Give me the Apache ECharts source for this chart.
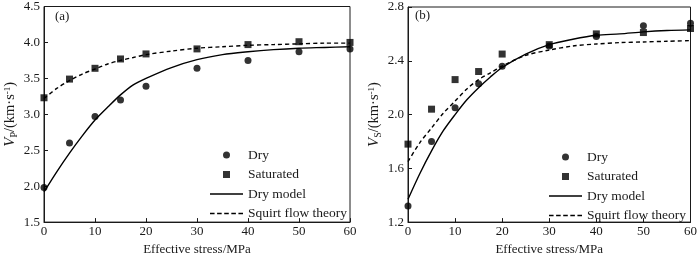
<!DOCTYPE html>
<html>
<head>
<meta charset="utf-8">
<script src="https://cdn.jsdelivr.net/npm/echarts@6/dist/echarts.min.js"></script>
<style>
  html, body { margin: 0; padding: 0; background: #fff; }
  #chart { width: 700px; height: 261px; }
</style>
</head>
<body>
<div id="chart"></div>
<script>
// measured points
const stress = [0, 5, 10, 15, 20, 30, 40, 50, 60]
const vpDry = [1.98, 2.6, 2.97, 3.2, 3.39, 3.64, 3.75, 3.87, 3.91]
const vpSat = [3.23, 3.49, 3.64, 3.77, 3.84, 3.91, 3.97, 4.01, 4.0]
const vsDry = [1.32, 1.8, 2.05, 2.23, 2.36, 2.51, 2.58, 2.66, 2.68]
const vsSat = [1.78, 2.04, 2.26, 2.32, 2.45, 2.52, 2.6, 2.61, 2.64]

// model curves
const modelStress = [0, 2.5, 5, 7.5, 10, 12.5, 15, 17.5, 20, 25, 30, 35, 40, 45, 50, 55, 60]
const vpDryModel = [1.92, 2.2, 2.46, 2.7, 2.92, 3.1, 3.27, 3.41, 3.5, 3.65, 3.76, 3.83, 3.87, 3.9, 3.92, 3.93, 3.94]
const vpSquirt = [3.22, 3.36, 3.47, 3.56, 3.63, 3.7, 3.75, 3.79, 3.83, 3.88, 3.92, 3.94, 3.96, 3.97, 3.98, 3.99, 3.99]
const vsDryModel = [1.37, 1.56, 1.73, 1.88, 2.0, 2.11, 2.2, 2.28, 2.35, 2.45, 2.52, 2.56, 2.59, 2.6, 2.615, 2.625, 2.63]
const vsSquirt = [1.65, 1.79, 1.9, 2.01, 2.1, 2.19, 2.26, 2.31, 2.36, 2.44, 2.48, 2.51, 2.525, 2.535, 2.54, 2.545, 2.55]

const pairs = (xs, ys) => xs.map((x, i) => [x, ys[i]])

const font = 'Liberation Serif'
const fs = 13
const ink = '#1a1a1a'

// legend icons: square marker, solid and dashed line samples
const squareIcon = 'path://M0,0h10v10h-10z'
const solidIcon = 'path://M0,0h33v1.4h-33z'
const dashedIcon = 'path://M0,0h4.5v1.4h-4.5zM7,0h4.5v1.4h-4.5zM14,0h4.5v1.4h-4.5zM21,0h4.5v1.4h-4.5zM28,0h4.5v1.4h-4.5z'

const makeXAxis = (gridIndex) => ({
  gridIndex,
  type: 'value',
  min: 0,
  max: 60,
  interval: 10,
  name: 'Effective stress/MPa',
  nameLocation: 'middle',
  nameGap: 14,
  nameTextStyle: { color: ink, fontFamily: font, fontSize: fs },
  axisLine: { lineStyle: { color: ink, width: 1 } },
  axisTick: { inside: true, length: 4, lineStyle: { color: ink } },
  axisLabel: { color: ink, fontFamily: font, fontSize: fs, margin: 3 },
  splitLine: { show: false }
})

const makeYAxis = (gridIndex, min, max, interval, sub) => ({
  gridIndex,
  type: 'value',
  min,
  max,
  interval,
  name: '{i|V}{s|' + sub + '}/(km·s{p|-1})',
  nameLocation: 'middle',
  nameGap: 25,
  nameTextStyle: {
    color: ink,
    fontFamily: font,
    fontSize: 14.5,
    rich: {
      i: { fontStyle: 'italic', fontFamily: font, fontSize: 15, color: ink },
      s: { fontFamily: font, fontSize: 10, color: ink, padding: [7, 0, 0, 0] },
      p: { fontFamily: font, fontSize: 9, color: ink, padding: [0, 0, 6, 0] }
    }
  },
  axisLine: { lineStyle: { color: ink, width: 1 } },
  axisTick: { inside: true, length: 4, lineStyle: { color: ink } },
  axisLabel: {
    color: ink,
    fontFamily: font,
    fontSize: fs,
    margin: 4,
    formatter: v => v.toFixed(1)
  },
  splitLine: { show: false }
})

const scatter = (name, idx, symbol, data) => ({
  name,
  type: 'scatter',
  xAxisIndex: idx,
  yAxisIndex: idx,
  symbol,
  symbolSize: 7,
  clip: false,
  itemStyle: { color: '#000' },
  data
})

const line = (name, idx, dashed, data) => ({
  name,
  type: 'line',
  xAxisIndex: idx,
  yAxisIndex: idx,
  smooth: 0.3,
  symbol: 'none',
  lineStyle: { color: '#000', width: 1.4, type: dashed ? [4, 3] : 'solid' },
  itemStyle: { color: '#000' },
  data
})

const makeLegend = (left, top) => ({
  orient: 'vertical',
  left,
  top,
  padding: 0,
  itemWidth: 33,
  itemHeight: 7,
  itemGap: 5.5,
  symbolKeepAspect: true,
  textStyle: { color: ink, fontFamily: font, fontSize: 13.5, lineHeight: 14 },
  data: [
    { name: 'Dry', icon: 'circle', itemStyle: { color: '#000' } },
    { name: 'Saturated', icon: squareIcon, itemStyle: { color: '#000' } },
    { name: 'Dry model', icon: solidIcon, itemStyle: { color: '#000' } },
    { name: 'Squirt flow theory', icon: dashedIcon, itemStyle: { color: '#000' } }
  ],
  selectedMode: false
})

const chart = echarts.init(document.getElementById('chart'), null, { renderer: 'canvas' })

chart.setOption({
  backgroundColor: '#fff',
  animation: false,
  title: [
    { text: '(a)', left: 55, top: 10, padding: 0, textStyle: { color: ink, fontFamily: font, fontSize: fs, fontWeight: 'normal' } },
    { text: '(b)', left: 415, top: 9, padding: 0, textStyle: { color: ink, fontFamily: font, fontSize: fs, fontWeight: 'normal' } }
  ],
  legend: [makeLegend(210, 148), makeLegend(549, 150)],
  grid: [
    { left: 44, top: 5, width: 306, height: 224, show: true, borderColor: ink, borderWidth: 1, backgroundColor: 'transparent' },
    { left: 408, top: 7, width: 284, height: 222, show: true, borderColor: ink, borderWidth: 1, backgroundColor: 'transparent' }
  ],
  xAxis: [makeXAxis(0), makeXAxis(1)],
  yAxis: [makeYAxis(0, 1.5, 4.5, 0.5, 'P'), makeYAxis(1, 1.2, 2.8, 0.4, 'S')],
  series: [
    line('Dry model', 0, false, pairs(modelStress, vpDryModel)),
    line('Squirt flow theory', 0, true, pairs(modelStress, vpSquirt)),
    scatter('Dry', 0, 'circle', pairs(stress, vpDry)),
    scatter('Saturated', 0, 'rect', pairs(stress, vpSat)),
    line('Dry model', 1, false, pairs(modelStress, vsDryModel)),
    line('Squirt flow theory', 1, true, pairs(modelStress, vsSquirt)),
    scatter('Dry', 1, 'circle', pairs(stress, vsDry)),
    scatter('Saturated', 1, 'rect', pairs(stress, vsSat))
  ]
})
</script>
</body>
</html>
